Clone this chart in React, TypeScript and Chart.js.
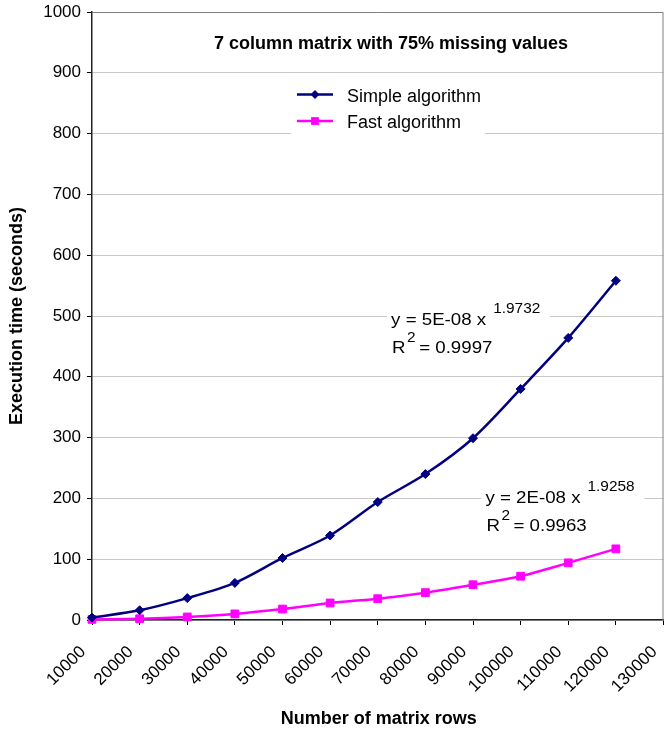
import React, { useEffect, useRef } from "react";
import { Chart, registerables } from "chart.js";

Chart.register(...registerables);

const rows = [10000, 20000, 30000, 40000, 50000, 60000, 70000, 80000, 90000, 100000, 110000, 120000];
const simpleTimes = [4, 16, 36, 61, 102, 139, 194, 240, 299, 380, 464, 558];
const fastTimes = [1, 2, 5, 10, 18, 28, 35, 45, 58, 72, 94, 117];
const xTickValues = [10000, 20000, 30000, 40000, 50000, 60000, 70000, 80000, 90000, 100000, 110000, 120000, 130000];
const yTickValues = [0, 100, 200, 300, 400, 500, 600, 700, 800, 900, 1000];
const seriesNames = ["Simple algorithm", "Fast algorithm"];
const seriesColors = ["#000080", "#ff00ff"];
const chartTitle = "7 column matrix with 75% missing values";
const xTitle = "Number of matrix rows";
const yTitle = "Execution time (seconds)";
const fitAnchorsX = [72800, 92600];
const fitAnchorsY = [486, 193];
const fitEquations = ["y = 5E-08 x", "y = 2E-08 x"];
const fitExponents = ["1.9732", "1.9258"];
const fitR2 = ["0.9997", "0.9963"];

const FONT = "'Liberation Sans', Arial, Helvetica, sans-serif";
const STRETCH = 1.1;

function drawMarker(ctx: CanvasRenderingContext2D, style: string, x: number, y: number, color: string) {
  ctx.fillStyle = color;
  ctx.beginPath();
  if (style === "rectRot") {
    const r = 4.5;
    ctx.moveTo(x, y - r);
    ctx.lineTo(x + r, y);
    ctx.lineTo(x, y + r);
    ctx.lineTo(x - r, y);
    ctx.closePath();
  } else {
    const s = 3.9;
    ctx.rect(x - s, y - s, 2 * s, 2 * s);
  }
  ctx.fill();
}

// draws horizontally stretched text, returns its drawn width
function stretchedText(ctx: CanvasRenderingContext2D, text: string, x: number, y: number, size: number) {
  ctx.save();
  ctx.font = `${size}px ${FONT}`;
  ctx.textAlign = "left";
  ctx.textBaseline = "alphabetic";
  ctx.translate(x, y);
  ctx.scale(STRETCH, 1);
  ctx.fillText(text, 0, 0);
  const w = ctx.measureText(text).width * STRETCH;
  ctx.restore();
  return w;
}

const overlayPlugin = {
  id: "overlay",
  beforeDatasetsDraw(chart: any) {
    const { ctx, chartArea: a, scales } = chart;
    const xs = scales.x;
    const ys = scales.y;
    ctx.save();
    // title
    ctx.fillStyle = "#000";
    ctx.font = `bold 18px ${FONT}`;
    ctx.textAlign = "center";
    ctx.textBaseline = "alphabetic";
    ctx.fillText(chartTitle, a.left + 299, a.top + 37);

    // legend
    const lx = a.left + 199;
    const ly = a.top + 63;
    ctx.fillStyle = "#fff";
    ctx.fillRect(lx, ly, 194, 59);
    chart.data.datasets.forEach((ds: any, i: number) => {
      const cy = ly + 19.5 + i * 26.5;
      ctx.strokeStyle = ds.borderColor;
      ctx.lineWidth = 2.5;
      ctx.beginPath();
      ctx.moveTo(lx + 6, cy);
      ctx.lineTo(lx + 42, cy);
      ctx.stroke();
      drawMarker(ctx, ds.pointStyle, lx + 24, cy, ds.borderColor);
      ctx.fillStyle = "#000";
      ctx.font = `18px ${FONT}`;
      ctx.textAlign = "left";
      ctx.fillText(ds.label, lx + 56, cy + 7);
    });

    // trendline equations
    fitEquations.forEach((eq, i) => {
      const px = xs.getPixelForValue(fitAnchorsX[i]);
      const py = ys.getPixelForValue(fitAnchorsY[i]);
      ctx.fillStyle = "#fff";
      ctx.fillRect(px - 4, py - 25, 163, 60);
      ctx.fillStyle = "#000";
      const w = stretchedText(ctx, eq, px, py, 17);
      stretchedText(ctx, fitExponents[i], px + w + 7, py - 12, 14);
      const rw = stretchedText(ctx, "R", px + 1, py + 28, 17);
      const tw = stretchedText(ctx, "2", px + 1 + rw + 1.5, py + 17, 14);
      stretchedText(ctx, "= " + fitR2[i], px + 1 + rw + 1.5 + tw + 3.5, py + 28, 17);
    });
    ctx.restore();
  },
  afterDraw(chart: any) {
    const { ctx, chartArea: a } = chart;
    ctx.save();
    // top and right border
    ctx.strokeStyle = "#808080";
    ctx.lineWidth = 1;
    ctx.beginPath();
    ctx.moveTo(a.left, a.top + 0.5);
    ctx.lineTo(a.right - 0.5, a.top + 0.5);
    ctx.lineTo(a.right - 0.5, a.bottom);
    ctx.stroke();
    // axis titles
    ctx.fillStyle = "#000";
    ctx.font = `bold 18px ${FONT}`;
    ctx.textAlign = "center";
    ctx.textBaseline = "alphabetic";
    ctx.fillText(xTitle, (a.left + a.right) / 2 + 1, 724);
    ctx.translate(22, (a.top + a.bottom) / 2);
    ctx.rotate(-Math.PI / 2);
    ctx.fillText(yTitle, 0, 0);
    ctx.restore();
  },
};

export default function App() {
  const ref = useRef<HTMLCanvasElement | null>(null);
  useEffect(() => {
    if (!ref.current) return;
    const tickFont = { family: FONT, size: 17 };
    const chart = new Chart(ref.current, {
      type: "line",
      data: {
        datasets: [
          {
            label: seriesNames[0],
            data: rows.map((r, i) => ({ x: r, y: simpleTimes[i] })),
            borderColor: seriesColors[0],
            backgroundColor: seriesColors[0],
            pointBackgroundColor: seriesColors[0],
            pointBorderColor: seriesColors[0],
            pointStyle: "rectRot",
            pointRadius: 4.5,
            pointBorderWidth: 1,
            borderWidth: 2.5,
            tension: 0.3,
            clip: false as any,
          },
          {
            label: seriesNames[1],
            data: rows.map((r, i) => ({ x: r, y: fastTimes[i] })),
            borderColor: seriesColors[1],
            backgroundColor: seriesColors[1],
            pointBackgroundColor: seriesColors[1],
            pointBorderColor: seriesColors[1],
            pointStyle: "rect",
            pointRadius: 5.5,
            pointBorderWidth: 1,
            borderWidth: 2.5,
            tension: 0.3,
            clip: false as any,
          },
        ],
      },
      options: {
        responsive: false,
        animation: false,
        devicePixelRatio: 1,
        layout: { padding: { top: 12, right: 1, left: 0, bottom: 0 } },
        plugins: {
          legend: { display: false },
          title: { display: false },
          tooltip: { enabled: false },
        },
        scales: {
          x: {
            type: "linear",
            min: 10000,
            max: 130000,
            afterBuildTicks: (s: any) => {
              s.ticks = xTickValues.map((v) => ({ value: v }));
            },
            afterFit: (s: any) => {
              s.height = 109;
              s.paddingLeft = 0;
              s.paddingRight = 0;
            },
            ticks: {
              autoSkip: false,
              maxRotation: 45,
              minRotation: 45,
              labelOffset: -9,
              padding: 17,
              font: tickFont,
              color: "#000",
              callback: (v: any) => String(v),
            },
            grid: { drawOnChartArea: false, drawTicks: true, tickLength: 5, tickColor: "#000" },
            border: { display: true, color: "#222", width: 1.5 },
          },
          y: {
            type: "linear",
            min: 0,
            max: 1000,
            afterBuildTicks: (s: any) => {
              s.ticks = yTickValues.map((v) => ({ value: v }));
            },
            afterFit: (s: any) => {
              s.width = 92;
              s.paddingTop = 0;
              s.paddingBottom = 0;
            },
            ticks: {
              padding: 6,
              font: tickFont,
              color: "#000",
              callback: (v: any) => String(v),
            },
            grid: { color: "#c8c8c8", tickColor: "#000", tickLength: 5, lineWidth: 1 },
            border: { display: true, color: "#222", width: 1.5 },
          },
        },
      },
      plugins: [overlayPlugin],
    });
    return () => chart.destroy();
  }, []);
  return (
    <div style={{ position: "absolute", left: 0, top: 0, width: 670, height: 729, background: "#fff" }}>
      <canvas ref={ref} width={670} height={729} style={{ display: "block", width: 670, height: 729 }} />
    </div>
  );
}
